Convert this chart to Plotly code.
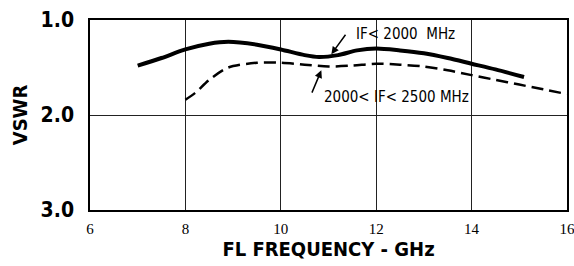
import plotly.graph_objects as go

# Solid curve: IF < 2000 MHz
freq_if_low = [7.0, 7.5, 8.0, 8.5, 8.9, 9.5, 10.0, 10.5, 10.8, 11.2, 11.6, 12.0, 12.5, 13.0, 13.5, 14.0, 14.5, 15.1]
vswr_if_low = [1.48, 1.40, 1.31, 1.25, 1.23, 1.26, 1.31, 1.37, 1.39, 1.37, 1.32, 1.30, 1.32, 1.35, 1.40, 1.46, 1.52, 1.60]

# Dashed curve: 2000 < IF < 2500 MHz
freq_if_high = [8.0, 8.2, 8.5, 8.9, 9.5, 10.0, 10.5, 11.0, 11.5, 12.0, 12.5, 13.0, 13.5, 14.0, 14.5, 15.0, 15.5, 16.0]
vswr_if_high = [1.84, 1.77, 1.63, 1.50, 1.45, 1.45, 1.47, 1.49, 1.48, 1.46, 1.47, 1.49, 1.53, 1.58, 1.63, 1.68, 1.73, 1.78]

x_ticks = [6, 8, 10, 12, 14, 16]
y_ticks = [1.0, 2.0, 3.0]
y_tick_labels = ["1.0", "2.0", "3.0"]

SANS = "DejaVu Sans Condensed, Liberation Sans Narrow, Liberation Sans, Arial"
SERIF = "Liberation Serif, Times New Roman, serif"

fig = go.Figure()
fig.add_trace(go.Scatter(x=freq_if_low, y=vswr_if_low, mode="lines",
                         line=dict(color="black", width=4, shape="spline", smoothing=0.8),
                         showlegend=False, hoverinfo="skip"))
fig.add_trace(go.Scatter(x=freq_if_high, y=vswr_if_high, mode="lines",
                         line=dict(color="black", width=2.5, shape="spline", smoothing=0.8, dash="12px,6px"),
                         showlegend=False, hoverinfo="skip"))

fig.update_layout(
    width=574, height=266,
    margin=dict(l=90, r=7, t=20, b=56),
    paper_bgcolor="white", plot_bgcolor="white",
    xaxis=dict(range=[6, 16.001], tickvals=x_ticks, ticktext=[str(v) for v in x_ticks],
               showgrid=True, gridcolor="#222", gridwidth=1, zeroline=False,
               showline=True, linecolor="black", linewidth=1.5, mirror=True,
               ticks="", ticklabelstandoff=4, automargin=False, ticklabeloverflow="allow",
               tickfont=dict(family=SERIF, size=15, color="black"),
               title=dict(text="<b>FL FREQUENCY - GHz</b>", standoff=4,
                          font=dict(family=SANS, size=20, color="black"))),
    yaxis=dict(range=[3, 1], tickvals=y_ticks, ticktext=["<b>%s</b>" % t for t in y_tick_labels],
               showgrid=True, gridcolor="#222", gridwidth=1, zeroline=False,
               showline=True, linecolor="black", linewidth=1.5, mirror=True,
               ticks="", ticklabelstandoff=10, automargin=False,
               tickfont=dict(family=SANS, size=21, color="black"),
               title=dict(text="<b>VSWR</b>", standoff=8,
                          font=dict(family=SANS, size=20, color="black"))),
)

# Labels
fig.add_annotation(x=11.54, y=1.15, xref="x", yref="y", text="IF&lt; 2000  MHz",
                   showarrow=False, xanchor="left", yanchor="middle",
                   font=dict(family=SANS, size=15, color="black"))
fig.add_annotation(x=10.87, y=1.81, xref="x", yref="y", text="2000&lt; IF&lt; 2500 MHz",
                   showarrow=False, xanchor="left", yanchor="middle",
                   font=dict(family=SANS, size=15, color="black"))
# Arrows
fig.add_annotation(x=11.06, y=1.36, ax=11.38, ay=1.14, xref="x", yref="y", axref="x", ayref="y",
                   text="", showarrow=True, arrowhead=2, arrowsize=1, arrowwidth=1.5, arrowcolor="black")
fig.add_annotation(x=10.85, y=1.53, ax=10.64, ay=1.78, xref="x", yref="y", axref="x", ayref="y",
                   text="", showarrow=True, arrowhead=2, arrowsize=1, arrowwidth=1.5, arrowcolor="black")

# Remove the page's default body margin so the figure fills the window exactly
fig.write_html("out.html", config={"displayModeBar": False},
               post_script="document.body.style.margin='0';document.body.style.padding='0';")
